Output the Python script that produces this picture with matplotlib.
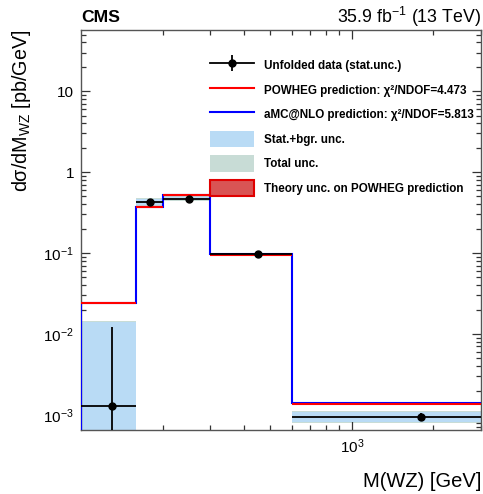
import numpy as np
import matplotlib
matplotlib.use("Agg")
import matplotlib.pyplot as plt
from matplotlib.patches import Patch
from matplotlib.lines import Line2D
from matplotlib.legend_handler import HandlerTuple
from matplotlib.ticker import FixedLocator, FixedFormatter, LogLocator, NullFormatter

plt.rcParams['font.family'] = ['Liberation Sans', 'DejaVu Sans']
plt.rcParams['mathtext.fontset'] = 'custom'
plt.rcParams['mathtext.rm'] = 'Liberation Sans'
plt.rcParams['mathtext.it'] = 'Liberation Sans'
plt.rcParams['mathtext.bf'] = 'Liberation Sans:bold'

# ---- data ----
edges = [100, 160, 200, 300, 600, 3000]
centers = [130, 180, 250, 450, 1800]
half_widths = [30, 20, 50, 150, 1200]
data = [0.00128, 0.426, 0.469, 0.0960, 0.000944]
data_err_up = [0.0109, 0.012, 0.010, 0.0025, 0.00011]
data_err_dn = [0.00128, 0.012, 0.010, 0.0025, 0.00010]

powheg = [0.0241, 0.370, 0.515, 0.0955, 0.00136]
amcnlo = [0.0240, 0.375, 0.520, 0.0968, 0.00141]
theory_lo = [0.0236, 0.358, 0.500, 0.0935, 0.00131]
theory_hi = [0.0247, 0.382, 0.530, 0.0975, 0.00141]

stat_lo = [1e-5, 0.387, 0.452, 0.0930, 0.00082]
stat_hi = [0.0141, 0.470, 0.490, 0.0990, 0.00109]
tot_lo = [1e-5, 0.380, 0.445, 0.0915, 0.00080]
tot_hi = [0.0145, 0.480, 0.500, 0.1005, 0.00111]

chi2_powheg = 4.473
chi2_amc = 5.813

ytick_vals = [1e-3, 1e-2, 1e-1, 1, 10]
ytick_labels = ['$10^{-3}$', '$10^{-2}$', '$10^{-1}$', '1', '10']
xtick_vals = [1000]
xtick_labels = ['$10^{3}$']


def step_path(vals, edg, floor=1e-6):
    # left vertical from the floor, then flat steps; no vertical at the right end
    xs = np.repeat(np.asarray(edg, float), 2)[:-1]
    ys = np.concatenate([[floor], np.repeat(np.asarray(vals, float), 2)])
    return xs, ys


# ---- figure ----
fig = plt.figure(figsize=(4.83, 4.94), dpi=100)
ax = fig.add_axes([81/483, 64/494, 400/483, 400/494])
ax.set_xscale('log')
ax.set_yscale('log')
ax.set_xlim(100, 3000)
ax.set_ylim(6.5e-4, 57)

c_stat = '#b9dbf5'
c_tot = '#c8dcd6'
c_th_face = '#d95454'
c_th_edge = '#e00000'

# bands
ax.stairs(tot_hi, edges, baseline=tot_lo, fill=True, color=c_tot, lw=0, zorder=1)
ax.stairs(stat_hi, edges, baseline=stat_lo, fill=True, color=c_stat, lw=0, zorder=2)
ax.stairs(theory_hi, edges, baseline=theory_lo, fill=True, facecolor=c_th_face,
          edgecolor='none', lw=0, zorder=3)

# predictions: aMC@NLO as full histogram, POWHEG as horizontal band centres
xs, ys = step_path(amcnlo, edges)
ax.plot(xs, ys, color='#0000ff', lw=1.5, zorder=4, solid_joinstyle='miter')
ax.hlines(powheg, edges[:-1], edges[1:], color='#ff0000', lw=1.5, zorder=5)

# data
ax.errorbar(centers, data, yerr=[data_err_dn, data_err_up], xerr=half_widths,
            fmt='o', color='black', ms=5, lw=1.3, capsize=0, zorder=10)

# ticks
ax.yaxis.set_major_locator(FixedLocator(ytick_vals))
ax.yaxis.set_major_formatter(FixedFormatter(ytick_labels))
ax.yaxis.set_minor_locator(LogLocator(base=10, subs=np.arange(2, 10), numticks=20))
ax.yaxis.set_minor_formatter(NullFormatter())
ax.xaxis.set_major_locator(FixedLocator(xtick_vals))
ax.xaxis.set_major_formatter(FixedFormatter(xtick_labels))
ax.xaxis.set_minor_locator(LogLocator(base=10, subs=np.arange(2, 10), numticks=20))
ax.xaxis.set_minor_formatter(NullFormatter())
ax.tick_params(which='both', direction='in', top=True, right=True, labelsize=11,
               color='#333333', width=0.9)
ax.tick_params(which='major', length=6.5, pad=5)
ax.tick_params(which='minor', length=3.6)
for s in ax.spines.values():
    s.set_color('#555555')
    s.set_linewidth(1.0)

ax.set_xlabel('M(WZ) [GeV]', fontsize=14.5, loc='right', labelpad=12)
ax.set_ylabel(r'd$\sigma$/dM$_{\mathrm{WZ}}$ [pb/GeV]', fontsize=14.2, loc='top')
ax.yaxis.set_label_coords(-0.12, 1.0)

fig.text(81/483, 1 - 17/494, 'CMS', fontsize=12.6, fontweight='bold', va='center', ha='left')
fig.text(481/483, 1 - 17/494, r'35.9 fb$^{-1}$ (13 TeV)', fontsize=12.8, va='center', ha='right')

data_handle = (Line2D([], [], color='black', lw=1.3),
               Line2D([], [], color='black', marker='|', ms=12, mew=1.3, ls='none'),
               Line2D([], [], color='black', marker='o', ms=5, ls='none'))
handles = [
    data_handle,
    Line2D([], [], color='#ff0000', lw=1.5),
    Line2D([], [], color='#0000ff', lw=1.5),
    Patch(facecolor=c_stat, edgecolor='none'),
    Patch(facecolor=c_tot, edgecolor='none'),
    Patch(facecolor=c_th_face, edgecolor=c_th_edge, lw=1.5),
]
labels = [
    'Unfolded data (stat.unc.)',
    f'POWHEG prediction: χ²/NDOF={chi2_powheg:.3f}',
    f'aMC@NLO prediction: χ²/NDOF={chi2_amc:.3f}',
    'Stat.+bgr. unc.',
    'Total unc.',
    'Theory unc. on POWHEG prediction',
]
leg = ax.legend(handles, labels, loc='upper left', bbox_to_anchor=((210-81)/400, (430-57)/400),
                frameon=False, borderpad=0, borderaxespad=0, handlelength=3.8,
                handleheight=1.8, handletextpad=0.8, labelspacing=0.69,
                handler_map={tuple: HandlerTuple(ndivide=1, pad=0)},
                prop={'family': 'Liberation Sans', 'weight': 'bold', 'size': 8.4})

fig.savefig('out.png', dpi=100)
